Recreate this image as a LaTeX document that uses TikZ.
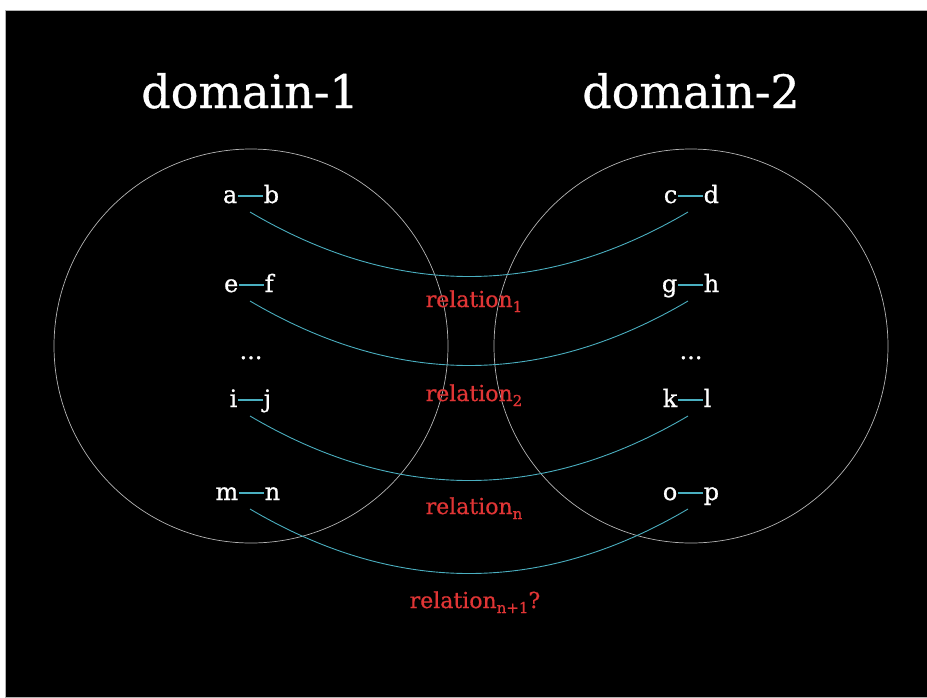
\documentclass[tikz,border=0pt]{standalone}
\usepackage{fontspec}
\setmainfont[FakeBold=0.7]{DejaVu Serif}
\definecolor{linkc}{HTML}{4AAFC0}
\definecolor{relc}{HTML}{E03535}
\definecolor{ringc}{HTML}{B4B4B4}
\newcommand\sbx[1]{\raisebox{-5pt}{\fontsize{15}{15}\selectfont #1}}
\begin{document}
\begin{tikzpicture}[x=1pt,y=-1pt,
  title/.style={text=white, font=\fontsize{46}{55}\selectfont, anchor=base, inner sep=0pt},
  letter/.style={text=white, font=\fontsize{24}{28}\selectfont, inner sep=0.5pt, text height=17pt, text depth=3pt},
  dots/.style={text=white, font=\fontsize{24}{28}\selectfont, anchor=base, inner sep=0pt},
  link/.style={draw=linkc, line width=1.6pt},
  arcline/.style={draw=linkc, line width=0.9pt},
  ring/.style={draw=ringc, line width=0.7pt},
  rel/.style={text=relc, font=\fontsize{22}{26}\selectfont, anchor=base, inner sep=0pt},
]
\useasboundingbox (0,0) rectangle (927,697);
\fill[white] (0,0) rectangle (927,697);
\filldraw[fill=black, draw=gray!60, line width=0.6pt] (5,10) rectangle (927,697);

\node[title] (t1) at (250,108) {domain-1};
\node[title] (t2) at (691,108) {domain-2};

\draw[ring] (251,346) circle[radius=197pt];
\draw[ring] (691,346) circle[radius=197pt];

\foreach \l/\r/\x/\y/\n in {a/b/250/203/ab, e/f/251/292/ef, i/j/250/407/ij, m/n/251/500/mn,
                             c/d/690/203/cd, g/h/690/292/gh, k/l/690/407/kl, o/p/690/500/op}{
  \node[letter, anchor=base east] (L\n) at (\x-12,\y) {\l};
  \node[letter, anchor=base west] (R\n) at (\x+13,\y) {\r};
  \draw[link] (L\n) -- (R\n);
}
\node[dots] (d1) at (251,359) {...};
\node[dots] (d2) at (691,359) {...};

\coordinate (sab) at (250,212);
\coordinate (scd) at (688,212);
\coordinate (sef) at (250,301);
\coordinate (sgh) at (688,301);
\coordinate (sij) at (250,416);
\coordinate (skl) at (688,416);
\coordinate (smn) at (250,509);
\coordinate (sop) at (688,509);
\foreach \s/\e in {sab/scd, sef/sgh, sij/skl, smn/sop}{
  \draw[arcline] (\s) .. controls +(146,86) and +(-146,86) .. (\e);
}

\node[rel] (r1) at (474,307) {relation\sbx{1}};
\node[rel] (r2) at (474,401) {relation\sbx{2}};
\node[rel] (rn) at (474,514) {relation\sbx{n}};
\node[rel] (rn1) at (475,608) {relation\sbx{n+1}?};
\end{tikzpicture}
\end{document}
